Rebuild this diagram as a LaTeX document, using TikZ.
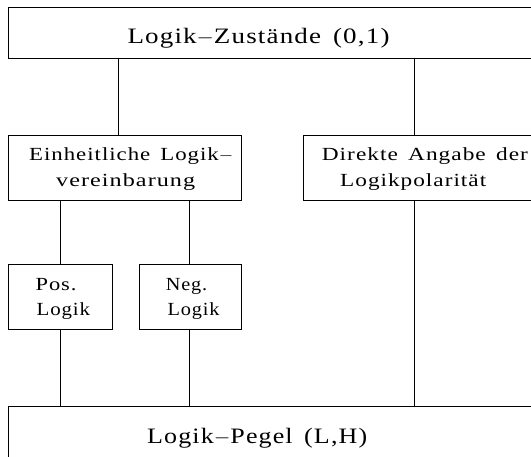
\documentclass[tikz,border=0pt]{standalone}
\usepackage{graphicx}
\usepackage{fontspec}
\setmainfont{Liberation Serif}[FakeStretch=1.15, LetterSpace=5, WordSpace=1.5]
\newcommand\fitto[2]{\resizebox{#1}{\height}{#2}}
\begin{document}
\begin{tikzpicture}[x=1pt,y=-1pt,
  box/.style={draw, line width=1pt, anchor=north west, inner sep=0pt, outer sep=0pt},
  big/.style={font=\fontsize{22}{26}\selectfont, anchor=base west, inner sep=0pt},
  small/.style={font=\fontsize{18.5}{22}\selectfont, anchor=base west, inner sep=0pt},
  link/.style={line width=1pt}]
\useasboundingbox (0,0) rectangle (531,456);
\clip (0,0) rectangle (531,456);
% boxes
\node[box, minimum width=540pt, minimum height=51pt] (top) at (8.3,7.3) {};
\node[box, minimum width=233.4pt, minimum height=65pt] (midL) at (8.3,135) {};
\node[box, minimum width=240pt, minimum height=65pt] (midR) at (303.3,135) {};
\node[box, minimum width=104.5pt, minimum height=64.7pt] (pos) at (8.3,264.3) {};
\node[box, minimum width=102.7pt, minimum height=64.7pt] (neg) at (139,264.3) {};
\node[box, minimum width=540pt, minimum height=60pt] (bot) at (8.3,406) {};
% texts
\node[big] (tTop) at (127.3,43.3) {\fitto{262pt}{Logik$-$Zustände (0,1)}};
\node[small] (tL1) at (29,160) {\fitto{204pt}{Einheitliche Logik$-$}};
\node[small] (tL2) at (56,186) {\fitto{139pt}{vereinbarung}};
\node[small] (tR1) at (321.7,160) {\fitto{206pt}{Direkte Angabe der}};
\node[small] (tR2) at (340,186) {\fitto{146pt}{Logikpolarität}};
\node[small] (tP1) at (35.4,290) {\fitto{41pt}{Pos.}};
\node[small] (tP2) at (36.4,315) {\fitto{53.5pt}{Logik}};
\node[small] (tN1) at (165.6,290) {\fitto{41.5pt}{Neg.}};
\node[small] (tN2) at (167.4,315) {\fitto{52pt}{Logik}};
\node[big] (tBot) at (147,443) {\fitto{220pt}{Logik$-$Pegel (L,H)}};
% connectors
\coordinate (xa) at (118,0);
\coordinate (xb) at (414,0);
\coordinate (xc) at (60.3,0);
\coordinate (xd) at (189,0);
\draw[link] (top.south -| xa) -- (midL.north -| xa);
\draw[link] (top.south -| xb) -- (midR.north -| xb);
\draw[link] (midL.south -| xc) -- (pos.north -| xc);
\draw[link] (midL.south -| xd) -- (neg.north -| xd);
\draw[link] (pos.south -| xc) -- (bot.north -| xc);
\draw[link] (neg.south -| xd) -- (bot.north -| xd);
\draw[link] (midR.south -| xb) -- (bot.north -| xb);
\end{tikzpicture}
\end{document}
